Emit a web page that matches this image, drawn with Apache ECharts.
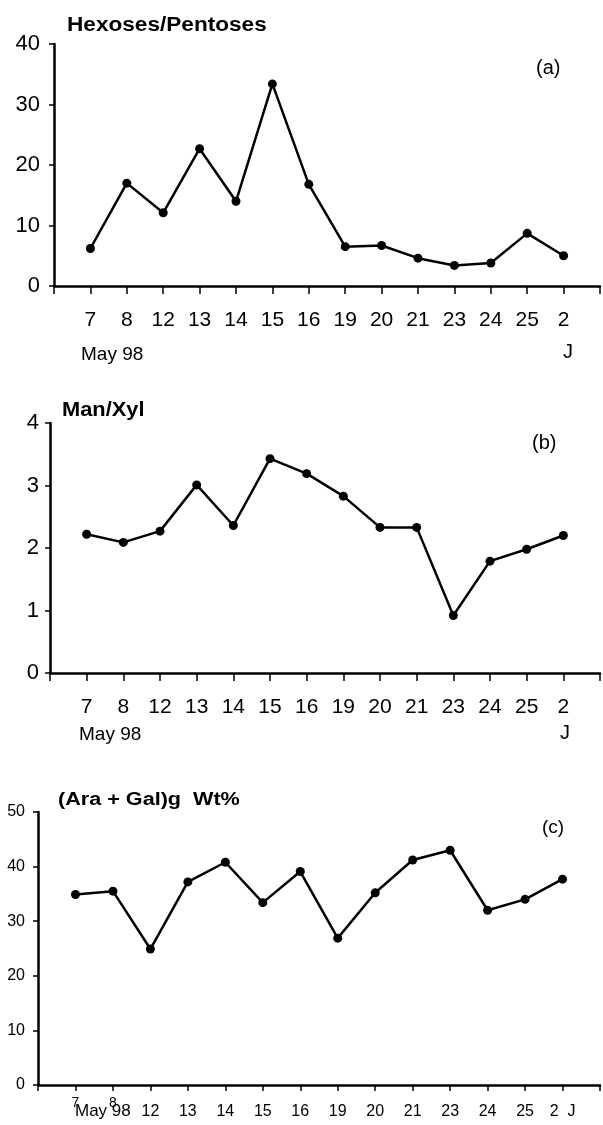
<!DOCTYPE html>
<html>
<head>
<meta charset="utf-8">
<script src="https://cdn.jsdelivr.net/npm/echarts@6/dist/echarts.min.js"></script>
<style>
  html, body { margin: 0; padding: 0; background: #fff; }
  #chart { width: 603px; height: 1125px; }
</style>
</head>
<body>
<div id="chart"></div>
<script>
// Sampling days (May 1998, the last one is 2 June)
const days = ['7', '8', '12', '13', '14', '15', '16', '19', '20', '21', '23', '24', '25', '2'];
const daysC = ['7', '8', '12', '13', '14', '15', '16', '19', '20', '21', '23', '24', '25', '2  J'];

// (a) Hexoses / Pentoses ratio
const hexPent = [6.2, 17.0, 12.1, 22.7, 14.0, 33.4, 16.8, 6.5, 6.7, 4.6, 3.4, 3.8, 8.7, 5.0];
// (b) Mannose / Xylose ratio
const manXyl = [2.22, 2.09, 2.27, 3.01, 2.36, 3.43, 3.19, 2.83, 2.33, 2.33, 0.92, 1.79, 1.98, 2.20];
// (c) (Ara + Gal) weight percent
const araGal = [34.9, 35.5, 24.9, 37.2, 40.8, 33.4, 39.1, 26.9, 35.2, 41.2, 43.0, 32.0, 34.0, 37.7];

const FONT = '"Liberation Sans", Arial, sans-serif';
const INK = '#000';

// raised: indices of day labels lifted above the rest (they sit over "May 98")
function xAxisFor(gridIndex, labels, fontSize, margin, tickLen, raised) {
  const rich = {
    up: { fontFamily: FONT, fontSize: fontSize - 2, color: INK },
    n: { fontFamily: FONT, fontSize, color: INK, padding: [8, 0, 0, 0] }
  };
  return {
    type: 'value', gridIndex, min: 0, max: 15, interval: 1,
    axisLine: { show: true, onZero: false, lineStyle: { color: INK, width: 2.5 } },
    axisTick: { show: true, length: tickLen, lineStyle: { color: INK, width: 1.5 } },
    splitLine: { show: false },
    axisLabel: {
      color: INK, fontFamily: FONT, fontSize, margin,
      showMinLabel: true, showMaxLabel: true,
      formatter: v => {
        const s = labels[v - 1] || '';
        if (!raised || !s) return s;
        return raised.indexOf(v - 1) >= 0 ? '{up|' + s + '}' : '{n|' + s + '}';
      },
      rich: raised ? rich : {}
    }
  };
}

function yAxisFor(gridIndex, max, interval, fontSize, margin) {
  return {
    type: 'value', gridIndex, min: 0, max, interval,
    axisLine: { show: true, lineStyle: { color: INK, width: 2.5 } },
    axisTick: { show: true, length: 5, lineStyle: { color: INK, width: 1.5 } },
    splitLine: { show: false },
    axisLabel: { color: INK, fontFamily: FONT, fontSize, margin }
  };
}

function seriesFor(idx, values) {
  return {
    type: 'line', xAxisIndex: idx, yAxisIndex: idx,
    data: values.map((v, i) => [i + 1, v]),
    symbol: 'circle', symbolSize: 9,
    itemStyle: { color: INK },
    lineStyle: { color: INK, width: 2.5 },
    animation: false
  };
}

function text(x, y, str, size, bold, sx) {
  return {
    type: 'text', left: x, top: y, scaleX: sx || 1,
    style: {
      text: str, fill: INK, fontFamily: FONT, fontSize: size,
      fontWeight: bold ? 'bold' : 'normal', textAlign: 'left', textVerticalAlign: 'middle'
    }
  };
}

const chart = echarts.init(document.getElementById('chart'), null, { renderer: 'canvas' });
chart.setOption({
  backgroundColor: '#fff',
  animation: false,
  grid: [
    { left: 54, top: 44, width: 551, height: 242 },
    { left: 50, top: 423, width: 553, height: 250 },
    { left: 38, top: 812, width: 562, height: 273 }
  ],
  xAxis: [
    xAxisFor(0, days, 21, 24, 8),
    xAxisFor(1, days, 21, 24, 8),
    xAxisFor(2, daysC, 16, 11, 6, [0, 1])
  ],
  yAxis: [
    yAxisFor(0, 40, 10, 22, 14),
    yAxisFor(1, 4, 1, 22, 11),
    yAxisFor(2, 50, 10, 16, 13)
  ],
  series: [
    seriesFor(0, hexPent),
    seriesFor(1, manXyl),
    seriesFor(2, araGal)
  ],
  graphic: [
    text(67, 15, 'Hexoses/Pentoses', 20, true, 1.13),
    text(536, 58, '(a)', 20, false),
    text(81, 345, 'May 98', 19, false),
    text(563, 342, 'J', 20, false),

    text(62, 400, 'Man/Xyl', 21, true, 1.04),
    text(532, 433, '(b)', 20, false),
    text(79, 725, 'May 98', 19, false),
    text(560, 723, 'J', 20, false),

    text(58, 791, '(Ara + Gal)g  Wt%', 18, true, 1.2),
    text(542, 818, '(c)', 19, false),
    text(75, 1103, 'May 98', 17, false)
  ]
});
</script>
</body>
</html>
